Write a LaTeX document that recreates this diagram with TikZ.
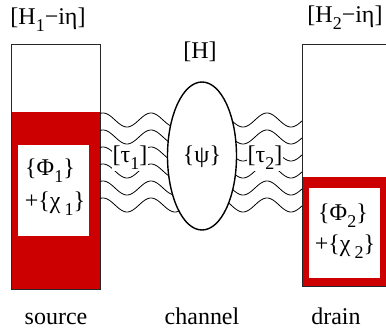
\documentclass[tikz,border=0pt]{standalone}
\usepackage{fontspec}
\setmainfont{Liberation Serif}
\usetikzlibrary{shapes.geometric}
\definecolor{srcred}{RGB}{204,0,0}
\newcommand\mysub[1]{\raisebox{-0.65ex}{\fontsize{18}{18}\selectfont #1}}
\begin{document}
\begin{tikzpicture}[x=1pt,y=-1pt,
  lbl/.style={font=\fontsize{24}{28}\selectfont, inner sep=1pt},
  wave/.style={line width=0.8pt},
  boxline/.style={draw=black!85, line width=1pt}]
\useasboundingbox (0,0) rectangle (386,331);
\begin{scope}
\clip (0,0) rectangle (386,331);
% source box
\fill[srcred] (11,112) rectangle (100,290);
\fill[white] (18,145) rectangle (89,236);
\draw[boxline] (11,45) rectangle (100,290);
% drain box
\fill[srcred] (302,177) rectangle (392,287);
\fill[white] (309,188) rectangle (380,278);
\draw[boxline] (392,45) -- (302,45) -- (302,287) -- (392,287);
% waves
\foreach \k in {0,...,5} {
  \draw[wave] plot[domain=100:202, samples=80, smooth] (\x, {120+17*\k - 7*cos(7.5*(\x-103))});
  \draw[wave] plot[domain=202:302, samples=80, smooth] (\x, {120+17*\k - 7*cos(7.5*(\x-267))});
}
% channel
\node[draw, fill=white, line width=1.4pt, ellipse, minimum width=69, minimum height=148, inner sep=0pt] (chan) at (202,156) {};
\end{scope}
\node[lbl] (h1) at (48,20) {[H\mysub{1}−iη]};
\node[lbl] (h2) at (345,18) {[H\mysub{2}−iη]};
\node[lbl] (h) at (200,52) {[H]};
\node[lbl, fill=white] (t1) at (130,158) {[τ\mysub{1}]};
\node[lbl] (psi) at (202,157) {\{ψ\}};
\node[lbl, fill=white] (t2) at (265,158) {[τ\mysub{2}]};
\node[lbl] (phi1) at (50,171) {\{Φ\mysub{1}\}};
\node[lbl] (chi1) at (55,204) {+\{χ\,\mysub{1}\}};
\node[lbl] (phi2) at (343,216) {\{Φ\mysub{2}\}};
\node[lbl] (chi2) at (345,247) {+\{χ\,\mysub{2}\}};
\node[lbl, anchor=base] (src) at (56,325) {source};
\node[lbl, anchor=base] (chl) at (202,325) {channel};
\node[lbl, anchor=base] (drn) at (336,325) {drain};
\end{tikzpicture}
\end{document}
